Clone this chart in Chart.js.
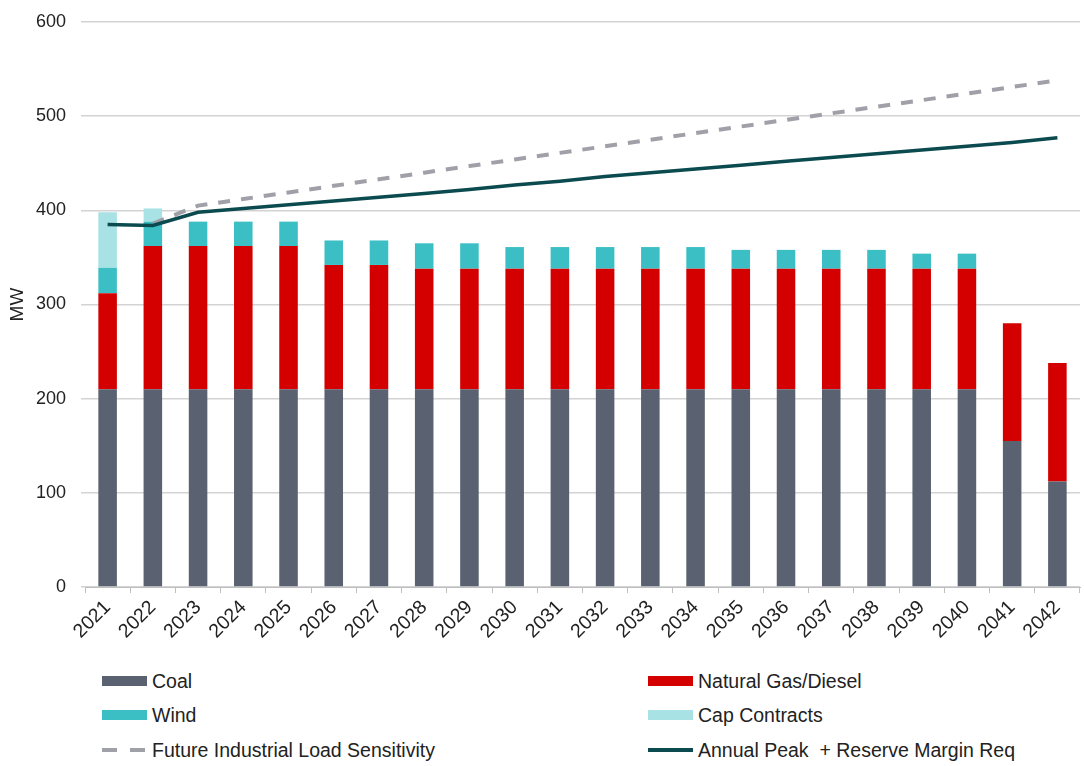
<!DOCTYPE html>
<html>
<head>
<meta charset="utf-8">
<script src="https://cdn.jsdelivr.net/npm/chart.js@4"></script>
<style>
  body { margin: 0; background: #fff; font-family: "Liberation Sans", Arial, sans-serif; }
  #wrap { position: relative; width: 1084px; height: 766px; }
  #chart { position: absolute; left: 0; top: 0; }
  .leg { position: absolute; font-size: 19.5px; color: #222; display: flex; align-items: center; white-space: nowrap; height: 24px; }
  .sw { width: 45px; height: 10px; margin-right: 5px; }
  .ln { width: 45px; height: 4px; margin-right: 5px; }
</style>
</head>
<body>
<div id="wrap">
  <canvas id="chart" width="1084" height="660"></canvas>
  <div class="leg" style="left:102px; top:669px;"><div class="sw" style="background:#5a6170"></div>Coal</div>
  <div class="leg" style="left:648px; top:669px;"><div class="sw" style="background:#d40000"></div>Natural Gas/Diesel</div>
  <div class="leg" style="left:102px; top:703px;"><div class="sw" style="background:#3bbfc4"></div>Wind</div>
  <div class="leg" style="left:648px; top:703px;"><div class="sw" style="background:#a8e2e4"></div>Cap Contracts</div>
  <div class="leg" style="left:102px; top:738px;"><div class="ln" style="background:linear-gradient(90deg,#a0a0a8 0 15px,transparent 15px 28px,#a0a0a8 28px 43px,transparent 43px)"></div>Future Industrial Load Sensitivity</div>
  <div class="leg" style="left:648px; top:738px;"><div class="ln" style="background:#0b4a4e"></div>Annual Peak&nbsp; + Reserve Margin Req</div>
</div>
<script>
// 年份
const years = ['2021','2022','2023','2024','2025','2026','2027','2028','2029','2030','2031',
               '2032','2033','2034','2035','2036','2037','2038','2039','2040','2041','2042'];

// 各类装机容量 (MW)
const coal = [210,210,210,210,210,210,210,210,210,210,210,210,210,210,210,210,210,210,210,210,155,112];
const gasDiesel = [102,152,152,152,152,132,132,128,128,128,128,128,128,128,128,128,128,128,128,128,125,126];
const wind = [27,26,26,26,26,26,26,27,27,23,23,23,23,23,20,20,20,20,16,16,0,0];
const capContracts = [59,14,0,0,0,0,0,0,0,0,0,0,0,0,0,0,0,0,0,0,0,0];

// 负荷曲线
const peakReserve = [385,384,398,402,406,410,414,418,422,427,431,436,440,444,448,452,456,460,464,468,472,477];
const industrialSens = [null,386,405,412,419,426,433,440,447,454,461,468,475,482,489,496,503,510,517,524,531,538];

const yTicks = [0,100,200,300,400,500,600];

const ctx = document.getElementById('chart').getContext('2d');
new Chart(ctx, {
    data: {
        labels: years,
        datasets: [
            { type: 'line', label: 'Annual Peak  + Reserve Margin Req', data: peakReserve,
              borderColor: '#0b4a4e', borderWidth: 3.5, pointRadius: 0, tension: 0, stack: 'peak', order: 0 },
            { type: 'line', label: 'Future Industrial Load Sensitivity', data: industrialSens,
              borderColor: '#a0a0a8', borderWidth: 4, borderDash: [12, 11], pointRadius: 0, tension: 0, stack: 'sens', order: 0 },
            { type: 'bar', label: 'Coal', data: coal, backgroundColor: '#5a6170', stack: 'gen', order: 1 },
            { type: 'bar', label: 'Natural Gas/Diesel', data: gasDiesel, backgroundColor: '#d40000', stack: 'gen', order: 1 },
            { type: 'bar', label: 'Wind', data: wind, backgroundColor: '#3bbfc4', stack: 'gen', order: 1 },
            { type: 'bar', label: 'Cap Contracts', data: capContracts, backgroundColor: '#a8e2e4', stack: 'gen', order: 1 }
        ]
    },
    options: {
        responsive: false,
        animation: false,
        layout: { padding: { top: 22, right: 4, left: 0, bottom: 0 } },
        datasets: { bar: { barPercentage: 0.41, categoryPercentage: 1 } },
        plugins: { legend: { display: false }, tooltip: { enabled: false } },
        scales: {
            x: {
                stacked: true,
                grid: { drawOnChartArea: false, color: '#bfbfbf', tickLength: 6, offset: true },
                border: { color: '#bfbfbf' },
                ticks: { minRotation: 45, maxRotation: 45, color: '#222', padding: 3,
                         font: { family: 'Liberation Sans', size: 19.5 } },
                afterFit: scale => { scale.height = 73; }
            },
            y: {
                stacked: true,
                min: 0, max: 600,
                afterBuildTicks: scale => { scale.ticks = yTicks.map(v => ({ value: v })); },
                grid: { color: '#d3d3d3', lineWidth: 1.5, tickLength: 4 },
                border: { display: false },
                ticks: { color: '#222', padding: 15, font: { family: 'Liberation Sans', size: 18 } },
                title: { display: true, text: 'MW', color: '#222', padding: { top: 6, bottom: 0 },
                         font: { family: 'Liberation Sans', size: 19 } },
                afterFit: scale => {
                    scale.width = 85;
                    scale.paddingTop = 0;
                    scale.paddingBottom = 0;
                }
            }
        }
    }
});
</script>
</body>
</html>
